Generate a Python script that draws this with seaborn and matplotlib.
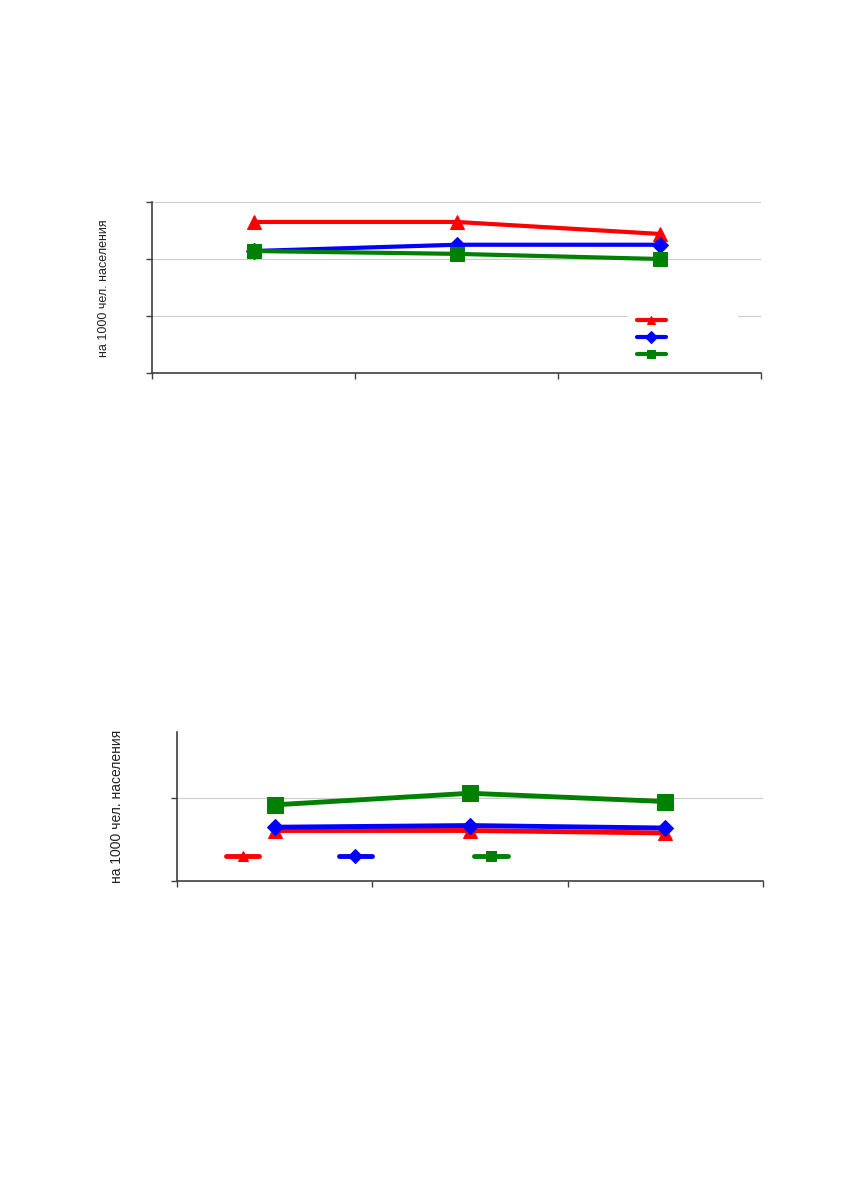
import seaborn as sns
import matplotlib.pyplot as plt
import pandas as pd

sns.set_style("white")
plt.rcParams['font.family'] = ['Liberation Sans', 'DejaVu Sans']

years = ['2007', '2008', '2009']

# верхний график, на 1000 чел. населения
top_red = [26.5, 26.5, 24.4]
top_blue = [21.4, 22.5, 22.5]
top_green = [21.4, 20.9, 20.0]

# нижний график
bot_red = [6.1, 6.1, 5.8]
bot_blue = [6.5, 6.7, 6.4]
bot_green = [9.2, 10.6, 9.6]

RED, BLUE, GREEN = '#ff0000', '#0000ff', '#008000'
SPINE = '#404040'


def draw_series(ax, vals, color, marker, ms, lw):
    df = pd.DataFrame({'pos': range(len(years)), 'val': vals})
    sns.lineplot(data=df, x='pos', y='val', ax=ax, color=color, marker=marker,
                 markersize=ms, markeredgecolor=color, linewidth=lw, sort=False)


def style_axes(ax, ylim, yticks):
    ax.set_xlim(-0.5, len(years) - 0.5)
    ax.set_xticks([i - 0.5 for i in range(len(years) + 1)])
    ax.set_ylim(*ylim)
    ax.set_yticks(yticks)
    ax.tick_params(labelbottom=False, labelleft=False, bottom=True, left=True,
                   direction='out', length=4, width=1, color=SPINE)
    ax.yaxis.grid(True, color='#cccccc', linewidth=0.8)
    ax.set_axisbelow(True)
    sns.despine(ax=ax)
    for s in ['left', 'bottom']:
        ax.spines[s].set_color(SPINE)
        ax.spines[s].set_linewidth(1.2)
    ax.set_xlabel('')
    ax.set_ylabel('')


fig = plt.figure(figsize=(8.5, 11.91), dpi=100)

# --- верхний график ---
ax1 = fig.add_axes([152 / 850, 1 - 373 / 1191, 609 / 850, 171 / 1191])
draw_series(ax1, top_red, RED, '^', 10, 3)
draw_series(ax1, top_blue, BLUE, 'D', 8, 3)
draw_series(ax1, top_green, GREEN, 's', 10, 3)
style_axes(ax1, (0, 30), [0, 10, 20, 30])
h1 = ax1.get_lines()[:3]
leg1 = ax1.legend(h1, ['', '', ''], loc='center left',
                  bbox_to_anchor=(628 / 850, 1 - 338 / 1191),
                  bbox_transform=fig.transFigure, fontsize=9,
                  handlelength=2.3, handletextpad=5, labelspacing=0.4,
                  borderpad=0.7, borderaxespad=0, frameon=True,
                  facecolor='white', edgecolor='white', framealpha=1,
                  fancybox=False)
for ln in leg1.get_lines():
    ln.set_markersize(6)
fig.text(104 / 850, 1 - 288 / 1191, 'на 1000 чел. населения', rotation=90,
         ha='center', va='center', fontsize=9, color='#222222')

# --- нижний график ---
ax2 = fig.add_axes([177 / 850, 1 - 881 / 1191, 586 / 850, 149 / 1191])
draw_series(ax2, bot_red, RED, '^', 10, 3.5)
draw_series(ax2, bot_blue, BLUE, 'D', 8.5, 3.5)
draw_series(ax2, bot_green, GREEN, 's', 11, 3.5)
style_axes(ax2, (0, 18), [0, 10])
h2 = ax2.get_lines()[:3]
leg2 = ax2.legend(h2, ['', ' ' * 6, ''], loc='center left', ncol=3,
                  bbox_to_anchor=(226 / 850, 1 - 857 / 1191),
                  bbox_transform=fig.transFigure, fontsize=10,
                  handlelength=2.4, handletextpad=0.5, columnspacing=5.2,
                  borderpad=0, borderaxespad=0, frameon=False)
for ln in leg2.get_lines():
    ln.set_markersize(7)
fig.text(117 / 850, 1 - 806 / 1191, 'на 1000 чел. населения', rotation=90,
         ha='center', va='center', fontsize=10, color='#222222')

fig.savefig('out.png', dpi=100, facecolor='white')
